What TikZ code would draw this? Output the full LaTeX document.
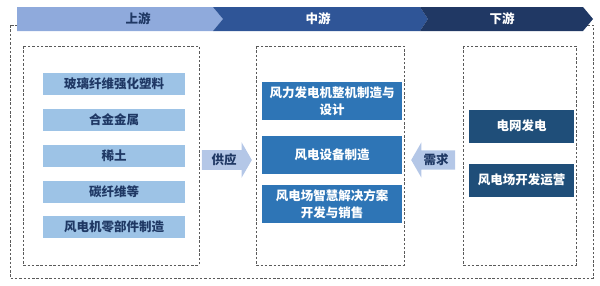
\documentclass[tikz,border=0pt]{standalone}
\usepackage{fontspec}
\newfontfamily\cjk{Noto Sans CJK SC}
\usepackage{xcolor}
\usetikzlibrary{shapes.arrows, positioning}
\definecolor{BannerLight}{HTML}{8FAADC}
\definecolor{BannerMid}{HTML}{2F5597}
\definecolor{BannerDark}{HTML}{203864}
\definecolor{RawBlue}{HTML}{9DC3E6}
\definecolor{MakeBlue}{HTML}{2E75B6}
\definecolor{UseBlue}{HTML}{1F4E79}
\definecolor{ArrowBlue}{HTML}{B4C7E7}
\definecolor{TextNavy}{HTML}{1F3864}
\definecolor{DashGray}{HTML}{5A5A5A}
\tikzset{
  cjkfont/.style={font=\cjk\bfseries\fontsize{12.5}{16.5}\selectfont},
  dashbox/.style={draw=DashGray, dash pattern=on 2.5pt off 1.8pt,
                  line width=0.7pt},
  rawBox/.style={fill=RawBlue, minimum width=142pt, minimum height=22pt,
                 inner sep=0pt, cjkfont, text=TextNavy},
  makeBox/.style={fill=MakeBlue, minimum width=140pt, minimum height=38pt,
                  inner sep=0pt, align=center, cjkfont, text=white},
  useBox/.style={fill=UseBlue, minimum width=105pt, minimum height=33pt,
                 inner sep=0pt, cjkfont, text=white},
  flowArrow/.style={single arrow, fill=ArrowBlue, minimum height=50pt,
                    inner xsep=2pt, inner ysep=3.5pt,
                    single arrow head extend=8pt, single arrow tip angle=120,
                    cjkfont, text=TextNavy},
  headText/.style={cjkfont},
}
\begin{document}
\begin{tikzpicture}[x=1pt, y=-1pt]
    \useasboundingbox (0,0) rectangle (600,285);
    %% outer frame and the three stage frames
    \draw[dashbox] (10,25) rectangle (593,278);
    \draw[dashbox] (23,46) rectangle (199,265);
    \draw[dashbox] (256,46) rectangle (404,265);
    \draw[dashbox] (463,46) rectangle (576,265);
    %% stage banner
    \fill[BannerLight] (17,7) -- (213,7) -- (223,19) -- (213,31) -- (17,31) -- cycle;
    \fill[BannerMid] (213,7) -- (420,7) -- (428,19) -- (420,31) -- (213,31) -- (223,19) -- cycle;
    \fill[BannerDark] (420,7) -- (583,7) -- (593,19) -- (583,31) -- (420,31) -- (428,19) -- cycle;
    \node[headText, text=TextNavy] (up)   at (138,19) {上游};
    \node[headText, text=white]    (mid)  at (318,19) {中游};
    \node[headText, text=white]    (down) at (502,19) {下游};
    %% upstream
    \node[rawBox] (r1) at (114,84)    {玻璃纤维强化塑料};
    \node[rawBox] (r2) at (114,119.5) {合金金属};
    \node[rawBox] (r3) at (114,155.5) {稀土};
    \node[rawBox] (r4) at (114,191.5) {碳纤维等};
    \node[rawBox] (r5) at (114,227)   {风电机零部件制造};
    %% midstream
    \node[makeBox] (m1) at (332,101)   {风力发电机整机制造与\\设计};
    \node[makeBox] (m2) at (332,154.5) {风电设备制造};
    \node[makeBox] (m3) at (332,204)   {风电场智慧解决方案\\开发与销售};
    %% downstream
    \node[useBox] (d1) at (521.5,126) {电网发电};
    \node[useBox] (d2) at (521.5,180) {风电场开发运营};
    %% supply and demand
    \node[flowArrow] (supply) at (224,160) {供应};
    \node[flowArrow, minimum height=44pt, shape border rotate=180] (demand) at (436,160) {需求};
\end{tikzpicture}
\end{document}
